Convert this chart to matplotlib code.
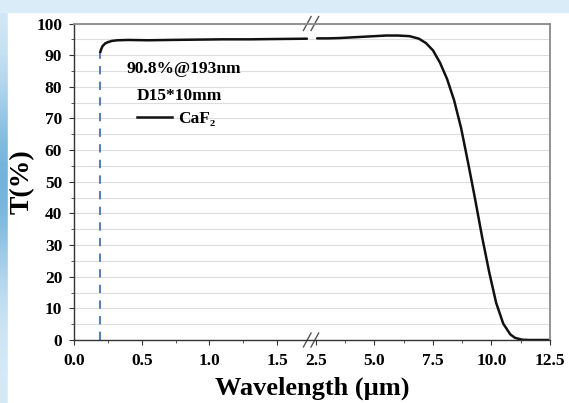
import numpy as np
import matplotlib
matplotlib.use("Agg")
import matplotlib.pyplot as plt
from matplotlib.lines import Line2D
from matplotlib.patches import Rectangle

# ---------------- data ----------------
wl_left = [0.193, 0.20, 0.21, 0.23, 0.25, 0.28, 0.32, 0.40, 0.55, 0.70, 0.90, 1.10, 1.30, 1.50, 1.72]
t_left = [90.8, 91.8, 92.8, 93.7, 94.1, 94.5, 94.7, 94.8, 94.7, 94.8, 94.9, 95.0, 95.0, 95.1, 95.2]

wl_right = [2.55, 3.0, 3.5, 4.0, 4.5, 5.0, 5.5, 6.0, 6.5, 6.9, 7.2, 7.5, 7.8, 8.1, 8.4,
            8.7, 9.0, 9.3, 9.6, 9.9, 10.2, 10.5, 10.8, 11.0, 11.3, 11.6, 12.5]
t_right = [95.3, 95.3, 95.4, 95.6, 95.8, 96.0, 96.2, 96.2, 96.0, 95.2, 93.8, 91.5, 87.6, 82.5, 75.8,
           67.0, 56.0, 44.5, 32.5, 21.5, 11.7, 5.2, 1.8, 0.7, 0.1, 0.0, 0.0]

cutoff_wl = 0.193
cutoff_t = 90.8

xticks = [0.0, 0.5, 1.0, 1.5, 2.5, 5.0, 7.5, 10.0, 12.5]
xticklabels = ["0.0", "0.5", "1.0", "1.5", "2.5", "5.0", "7.5", "10.0", "12.5"]
xminor = [0.25, 0.75, 1.25, 3.75, 6.25, 8.75, 11.25]
yticks = list(range(0, 101, 10))
yminor = list(range(5, 100, 10))

label_text1 = "90.8%@193nm"
label_text2 = "D15*10mm"
series_name = "CaF₂"

# ---------------- broken-axis scale ----------------
BRK = 1.787       # where 2.5 sits on the left-segment unit
RJ = 2.5          # first value of right segment
RATIO = 0.1728    # right segment compression


def fwd(x):
    x = np.asarray(x, dtype=float)
    return np.where(x <= BRK, x, BRK + np.clip(x - RJ, 0, None) * RATIO)


def inv(u):
    u = np.asarray(u, dtype=float)
    return np.where(u <= BRK, u, RJ + (u - BRK) / RATIO)


SERIF = ["Liberation Serif", "DejaVu Serif"]
plt.rcParams["font.family"] = SERIF
plt.rcParams["font.weight"] = "bold"

fig = plt.figure(figsize=(5.69, 4.03), dpi=100)
fig.patch.set_facecolor("#d9ecf7")

# background gradient (decoration)
bg = fig.add_axes([0, 0, 1, 1], zorder=-10)
gy = np.linspace(0, 1, 200)[:, None]
grad = np.exp(-((gy - 0.45) ** 2) / 0.06)
bg.imshow(grad, aspect="auto", cmap=matplotlib.colors.LinearSegmentedColormap.from_list(
    "b", ["#d6eaf6", "#5fa9d8"]), extent=[0, 1, 0, 1], vmin=0, vmax=1.2)
bg.add_patch(Rectangle((8 / 569, 0), 1, 1 - 12 / 403, color="white", transform=bg.transAxes))
bg.add_patch(Rectangle((0, 1 - 12 / 403), 1, 12 / 403, color="#d9ecf7", transform=bg.transAxes))
bg.set_xlim(0, 1)
bg.set_ylim(0, 1)
bg.axis("off")

ax = fig.add_axes([74 / 569, 1 - 340 / 403, 476 / 569, 316.5 / 403])
ax.set_xscale("function", functions=(fwd, inv))
ax.set_xlim(0, 12.5)
ax.set_ylim(0, 100)

ax.plot(wl_left, t_left, color="#111111", lw=1.8, solid_capstyle="round")
ax.plot(wl_right, t_right, color="#111111", lw=1.8, solid_capstyle="round")
ax.plot([cutoff_wl, cutoff_wl], [0, cutoff_t], color="#5b7fb5", lw=1.5,
        ls=(0, (4, 3.5)))

ax.set_xticks(xticks)
ax.set_xticklabels(xticklabels)
ax.set_xticks(xminor, minor=True)
ax.set_yticks(yticks)
ax.set_yticks(yminor, minor=True)
ax.yaxis.grid(True, which="both", color="#dedede", lw=0.8)
ax.set_axisbelow(True)

ax.tick_params(axis="both", which="major", direction="out", length=3.5, width=0.8,
               labelsize=12.5, color="#333333")
ax.tick_params(axis="both", which="minor", direction="out", length=2, width=0.7, color="#555555")
ax.tick_params(axis="x", pad=6)
ax.tick_params(axis="y", pad=5)
for lab in ax.get_xticklabels() + ax.get_yticklabels():
    lab.set_fontweight("bold")

for s in ["left", "bottom"]:
    ax.spines[s].set_color("#333333")
    ax.spines[s].set_linewidth(1.0)
for s in ["top", "right"]:
    ax.spines[s].set_color("#8a8a8a")
    ax.spines[s].set_linewidth(1.3)

ax.set_xlabel("Wavelength (µm)", fontsize=19, fontweight="bold", labelpad=5)
ax.set_ylabel("T(%)", fontsize=20, fontweight="bold", labelpad=1)

# break marks
for yb in (0.0, 1.0):
    for dx in (-0.009, 0.007):
        ax.plot([0.499 + dx - 0.008, 0.499 + dx + 0.008], [yb - 0.022, yb + 0.022],
                transform=ax.transAxes, color="#555555", lw=1.0, clip_on=False)

ax.text(0.110, 0.857, label_text1, transform=ax.transAxes, fontsize=12.5,
        fontweight="bold", va="center", ha="left")
ax.text(0.132, 0.772, label_text2, transform=ax.transAxes, fontsize=12.5,
        fontweight="bold", va="center", ha="left")
handle = Line2D([], [], color="#111111", lw=1.8)
leg = ax.legend([handle], [series_name], loc="center left",
                bbox_to_anchor=(0.132, 0.698), frameon=False, handlelength=2.0,
                handletextpad=0.4, borderaxespad=0, borderpad=0,
                prop={"family": SERIF, "weight": "bold", "size": 12.5})

fig.savefig("out.png", dpi=100, facecolor=fig.get_facecolor())
